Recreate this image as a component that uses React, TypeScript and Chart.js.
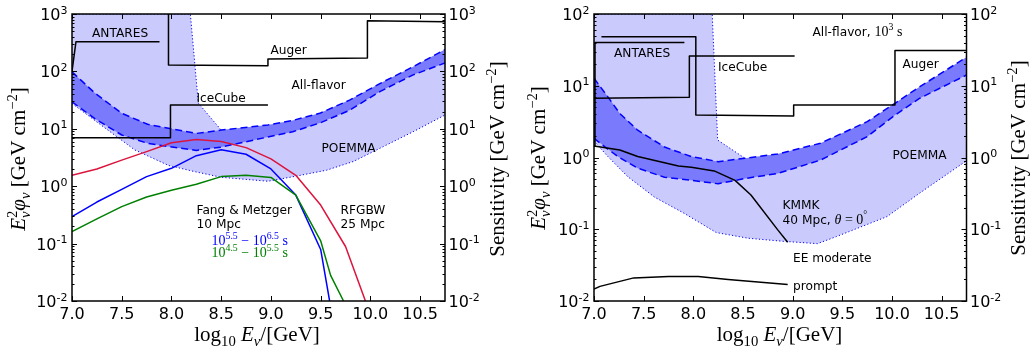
import React, { useEffect, useRef } from "react";
import { Chart, registerables } from "chart.js";

Chart.register(...registerables);

// ================= shared axes =================
const X_MIN = 7.0;
const X_MAX = 10.75;
const X_TICKS = [7.0, 7.5, 8.0, 8.5, 9.0, 9.5, 10.0, 10.5];
const LEFT_DECADES = [-2, -1, 0, 1, 2, 3];
const RIGHT_DECADES = [-2, -1, 0, 1, 2];

// ================= left panel data =================
const lUpperDashedX = [7.0, 7.23, 7.5, 7.76, 7.97, 8.25, 8.5, 8.97, 9.22, 9.49, 9.79, 10.1, 10.43, 10.75];
const lUpperDashedY = [98, 42, 18.6, 12, 10.2, 8.3, 9.5, 11.7, 14, 18.6, 31.6, 62, 121, 240];
const lLowerDashedX = [7.0, 7.23, 7.5, 7.76, 7.97, 8.25, 8.5, 8.97, 9.22, 9.49, 9.79, 10.1, 10.43, 10.75];
const lLowerDashedY = [29.5, 15, 7.8, 5.6, 4.9, 4.2, 4.8, 7.2, 8.9, 12.6, 21, 45, 87, 140];
const lLowerDottedX = [7.0, 7.29, 7.63, 7.97, 8.23, 8.5, 8.97, 9.22, 9.56, 9.83, 10.13, 10.43, 10.75];
const lLowerDottedY = [27.6, 11.7, 4.3, 2.3, 1.8, 1.43, 1.22, 1.46, 1.9, 2.7, 4.9, 8.9, 17.4];
const lUpperDottedX = [7.0, 8.19, 8.27, 8.5];
const lUpperDottedY = [1000, 1000, 28, 9.5];

const lAntaresX = [7.0, 7.04, 7.88];
const lAntaresY = [100, 330, 330];
const lAugerX = [7.97, 7.97, 8.97, 8.97, 9.97, 9.97, 10.75];
const lAugerY = [5000, 129, 126, 164, 172, 765, 735];
const lIceCubeX = [7.0, 7.99, 7.99, 8.97];
const lIceCubeY = [7.0, 7.0, 26, 26];

const rfgbwX = [7.0, 7.25, 7.5, 7.75, 8.0, 8.25, 8.5, 8.75, 9.0, 9.25, 9.5, 9.75, 9.95];
const rfgbwY = [1.55, 2.0, 2.85, 4.0, 5.7, 6.5, 6.0, 4.7, 3.0, 1.55, 0.47, 0.089, 0.01];
const fangBlueX = [7.0, 7.25, 7.5, 7.75, 8.0, 8.25, 8.5, 8.75, 9.0, 9.25, 9.5, 9.59];
const fangBlueY = [0.295, 0.53, 0.88, 1.47, 2.05, 3.4, 4.3, 3.6, 2.0, 0.7, 0.079, 0.01];
const fangGreenX = [7.0, 7.25, 7.5, 7.75, 8.0, 8.25, 8.5, 8.75, 9.0, 9.25, 9.5, 9.6, 9.73];
const fangGreenY = [0.162, 0.27, 0.44, 0.65, 0.85, 1.08, 1.47, 1.55, 1.42, 0.7, 0.112, 0.028, 0.01];

// ================= right panel data =================
const rUpperDashedX = [7.0, 7.14, 7.26, 7.44, 7.71, 7.98, 8.25, 8.52, 8.85, 9.28, 9.75, 10.03, 10.28, 10.75];
const rUpperDashedY = [12.7, 7.0, 4.1, 2.4, 1.4, 1.03, 0.875, 0.975, 1.12, 1.58, 3.16, 5.7, 9.7, 25];
const rLowerDashedX = [7.0, 7.11, 7.24, 7.44, 7.71, 7.98, 8.25, 8.52, 8.85, 9.28, 9.75, 10.03, 10.28, 10.75];
const rLowerDashedY = [1.85, 1.41, 1.03, 0.71, 0.53, 0.48, 0.43, 0.51, 0.6, 0.92, 1.95, 3.9, 6.7, 14.1];
const rLowerDottedX = [7.0, 7.14, 7.34, 7.61, 7.91, 8.23, 8.55, 8.9, 9.25, 9.44, 9.95, 10.28, 10.75];
const rLowerDottedY = [1.7, 1.03, 0.54, 0.28, 0.166, 0.09, 0.075, 0.068, 0.063, 0.079, 0.15, 0.32, 0.9];
const rUpperDottedX = [7.0, 8.19, 8.245, 8.52];
const rUpperDottedY = [100, 100, 1.75, 0.975];

const rAntaresX = [7.0, 7.01, 7.91];
const rAntaresY = [1.45, 40, 40];
const rAugerX = [7.075, 8.025, 8.025, 9.01, 9.01, 10.03, 10.03, 10.75];
const rAugerY = [48, 48, 3.9, 3.8, 5.4, 5.4, 31, 31];
const rIceCubeX = [7.0, 7.96, 7.96, 9.02];
const rIceCubeY = [6.7, 6.9, 26, 26];
const kmmkX = [7.0, 7.26, 7.44, 7.85, 7.98, 8.21, 8.42, 8.58, 8.85, 8.95];
const kmmkY = [1.45, 1.27, 1.03, 0.76, 0.73, 0.65, 0.48, 0.3, 0.098, 0.066];
const promptX = [7.0, 7.06, 7.4, 7.75, 8.05, 8.35, 8.95];
const promptY = [0.0147, 0.016, 0.021, 0.022, 0.022, 0.02, 0.017];

// ================= styles =================
const LIGHT = "rgb(202,202,252)";
const DARK = "rgb(122,122,252)";
const BLUE = "rgb(0,0,255)";
const RED = "rgb(220,20,60)";
const GREEN = "rgb(0,128,0)";
const TRANSPARENT = "rgba(0,0,0,0)";

const SANS_NOTE = '12.2px "DejaVu Sans"';
const rm = (s: number) => `${s}px "Liberation Serif"`;
const it = (s: number) => `italic ${s}px "Liberation Serif"`;
const TS = 21; // title size
const MS = 14; // math annotation size

type Seg = { t: string; f: string; dy?: number; c?: string; stack?: boolean };
type Note = { x: number; y: number; segs: Seg[]; color?: string };

const S = (t: string): Seg => ({ t, f: SANS_NOTE });

const yTitleSegs: Seg[] = [
  { t: "E", f: it(TS) },
  { t: "2", f: rm(TS * 0.7), dy: -8 },
  { t: "ν", f: it(TS * 0.7), dy: 4.5, stack: true },
  { t: "φ", f: it(TS) },
  { t: "ν", f: it(TS * 0.7), dy: 4.5 },
  { t: " [GeV cm", f: rm(TS) },
  { t: "−2", f: rm(TS * 0.7), dy: -8 },
  { t: "]", f: rm(TS) },
];
const sensTitleSegs: Seg[] = [
  { t: "Sensitivity [GeV cm", f: rm(TS) },
  { t: "−2", f: rm(TS * 0.7), dy: -8 },
  { t: "]", f: rm(TS) },
];
const xTitleSegs: Seg[] = [
  { t: "log", f: rm(TS) },
  { t: "10", f: rm(TS * 0.7), dy: 4.5 },
  { t: " E", f: it(TS) },
  { t: "ν", f: it(TS * 0.7), dy: 4.5 },
  { t: "/[GeV]", f: rm(TS) },
];

const powSegs = (a: string, b: string, col: string): Seg[] => [
  { t: "10", f: rm(MS), c: col },
  { t: a, f: rm(MS * 0.7), dy: -6, c: col },
  { t: " − 10", f: rm(MS), c: col },
  { t: b, f: rm(MS * 0.7), dy: -6, c: col },
  { t: " s", f: rm(MS), c: col },
];

const leftNotes: Note[] = [
  { x: 92, y: 36.5, segs: [S("ANTARES")] },
  { x: 270.5, y: 54, segs: [S("Auger")] },
  { x: 291.5, y: 89, segs: [S("All-flavor")] },
  { x: 196.5, y: 102, segs: [S("IceCube")] },
  { x: 321.5, y: 152, segs: [S("POEMMA")] },
  { x: 196.5, y: 213.5, segs: [S("Fang & Metzger")] },
  { x: 196.5, y: 228, segs: [S("10 Mpc")] },
  { x: 211.5, y: 245, segs: powSegs("5.5", "6.5", BLUE) },
  { x: 211.5, y: 257, segs: powSegs("4.5", "5.5", GREEN) },
  { x: 340.5, y: 213.5, segs: [S("RFGBW")] },
  { x: 340.5, y: 228, segs: [S("25 Mpc")] },
];

const rightNotes: Note[] = [
  {
    x: 812.5,
    y: 36,
    segs: [S("All-flavor, "), { t: "10", f: rm(MS) }, { t: "3", f: rm(MS * 0.7), dy: -6 }, { t: " s", f: rm(MS) }],
  },
  { x: 614, y: 57, segs: [S("ANTARES")] },
  { x: 718, y: 71, segs: [S("IceCube")] },
  { x: 902.5, y: 67.5, segs: [S("Auger")] },
  { x: 892.5, y: 158.5, segs: [S("POEMMA")] },
  { x: 782.5, y: 208.5, segs: [S("KMMK")] },
  {
    x: 782.5,
    y: 223.5,
    segs: [S("40 Mpc, "), { t: "θ", f: it(MS) }, { t: " = 0", f: rm(MS) }, { t: "°", f: rm(MS * 0.7), dy: -6 }],
  },
  { x: 793, y: 261.5, segs: [S("EE moderate")] },
  { x: 793, y: 290, segs: [S("prompt")] },
];

// ================= rich text helpers =================
function layoutRich(ctx: CanvasRenderingContext2D, segs: Seg[]) {
  let pos = 0;
  let prevStart = 0;
  let prevW = 0;
  const placed: { s: Seg; x: number }[] = [];
  for (const s of segs) {
    ctx.font = s.f;
    const w = ctx.measureText(s.t).width;
    if (s.stack) {
      placed.push({ s, x: prevStart });
      const adv = Math.max(prevW, w);
      pos = prevStart + adv;
      prevW = adv;
    } else {
      placed.push({ s, x: pos });
      prevStart = pos;
      prevW = w;
      pos += w;
    }
  }
  return { placed, width: pos };
}

function drawRich(
  ctx: CanvasRenderingContext2D,
  segs: Seg[],
  x: number,
  y: number,
  align: "left" | "center" | "right",
  color = "#000"
) {
  const { placed, width } = layoutRich(ctx, segs);
  const x0 = align === "left" ? x : align === "center" ? x - width / 2 : x - width;
  ctx.textAlign = "left";
  ctx.textBaseline = "alphabetic";
  for (const p of placed) {
    ctx.font = p.s.f;
    ctx.fillStyle = p.s.c || color;
    ctx.fillText(p.s.t, x0 + p.x, y + (p.s.dy || 0));
  }
}

function drawRotated(ctx: CanvasRenderingContext2D, segs: Seg[], x: number, y: number) {
  ctx.save();
  ctx.translate(x, y);
  ctx.rotate(-Math.PI / 2);
  drawRich(ctx, segs, 0, 0, "center");
  ctx.restore();
}

const decLabel = (d: number): Seg[] => [
  { t: "10", f: '16px "DejaVu Sans"' },
  { t: d < 0 ? "-" + Math.abs(d) : String(d), f: '11px "DejaVu Sans"', dy: -6.5 },
];

type DecorCfg = {
  ox: number;
  decades: number[];
  notes: Note[];
  leftTitleX: number;
  rightTitleX: number;
  leftTitleSegs: Seg[];
  titleY: number;
  xTitleX: number;
};

function makeDecor(cfg: DecorCfg) {
  return {
    id: "decor",
    afterDatasetsDraw(chart: any) {
      const ctx: CanvasRenderingContext2D = chart.ctx;
      const a = chart.chartArea;
      const xs = chart.scales.x;
      const ys = chart.scales.y;
      ctx.save();
      for (const n of cfg.notes) drawRich(ctx, n.segs, n.x - cfg.ox, n.y, "left", n.color);

      // frame
      ctx.strokeStyle = "#000";
      ctx.lineWidth = 1.5;
      ctx.strokeRect(a.left, a.top, a.right - a.left, a.bottom - a.top);

      // ticks
      ctx.lineWidth = 1;
      ctx.beginPath();
      for (const t of X_TICKS) {
        const px = Math.round(xs.getPixelForValue(t)) + 0.5;
        ctx.moveTo(px, a.bottom);
        ctx.lineTo(px, a.bottom - 5);
        ctx.moveTo(px, a.top);
        ctx.lineTo(px, a.top + 5);
      }
      for (const d of cfg.decades) {
        for (let m = 1; m < 10; m++) {
          const v = m * Math.pow(10, d);
          if (v > ys.max * 1.0001) break;
          const py = Math.round(ys.getPixelForValue(v)) + 0.5;
          const len = m === 1 ? 5 : 2.5;
          ctx.moveTo(a.left, py);
          ctx.lineTo(a.left + len, py);
          ctx.moveTo(a.right, py);
          ctx.lineTo(a.right - len, py);
        }
      }
      ctx.stroke();

      // tick labels
      for (const t of X_TICKS) {
        drawRich(ctx, [{ t: t.toFixed(1), f: '16px "DejaVu Sans"' }], xs.getPixelForValue(t), a.bottom + 18, "center");
      }
      for (const d of cfg.decades) {
        const py = ys.getPixelForValue(Math.pow(10, d));
        drawRich(ctx, decLabel(d), a.left - 4.5, py + 6, "right");
        drawRich(ctx, decLabel(d), a.right + 3.5, py + 6, "left");
      }

      // titles
      drawRotated(ctx, cfg.leftTitleSegs, cfg.leftTitleX - cfg.ox, cfg.titleY);
      drawRotated(ctx, sensTitleSegs, cfg.rightTitleX - cfg.ox, cfg.titleY);
      drawRich(ctx, xTitleSegs, cfg.xTitleX - cfg.ox, 341, "center");
      ctx.restore();
    },
  };
}

// ================= dataset helpers =================
const pts = (xs: number[], ys: number[]) => xs.map((x, i) => ({ x, y: ys[i] }));

const lineDs = (data: any[], color: string, width: number, dash: number[], order: number) => ({
  data,
  borderColor: color,
  backgroundColor: TRANSPARENT,
  borderWidth: width,
  borderDash: dash,
  fill: false,
  order,
  pointRadius: 0,
});

const fillBase = (data: any[], order: number) => ({
  data,
  borderColor: TRANSPARENT,
  backgroundColor: TRANSPARENT,
  borderWidth: 0,
  fill: false,
  order,
  pointRadius: 0,
});

const DASH = [7, 4];
const DOT = [1.2, 2.2];

function envelope(dotX: number[], dotY: number[], dashX: number[], dashY: number[]) {
  const last = dotX[dotX.length - 1];
  const xs = [...dotX];
  const ys = [...dotY];
  dashX.forEach((x, i) => {
    if (x > last) {
      xs.push(x);
      ys.push(dashY[i]);
    }
  });
  return pts(xs, ys);
}

function buildConfig(p: {
  yMin: number;
  yMax: number;
  pad: { left: number; right: number; top: number; bottom: number };
  upDash: any[];
  loDash: any[];
  loDot: any[];
  upDot: any[];
  env: any[];
  black: any[][];
  colored: { data: any[]; color: string }[];
  decor: any;
}) {
  const datasets: any[] = [
    fillBase(p.loDot, 40),
    { ...fillBase(p.env, 39), backgroundColor: LIGHT, fill: 0 },
    fillBase(p.loDash, 38),
    { ...fillBase(p.upDash, 37), backgroundColor: DARK, fill: 2 },
    lineDs(p.loDot, BLUE, 1, DOT, 30),
    lineDs(p.upDot, BLUE, 1, DOT, 30),
    lineDs(p.loDash, BLUE, 1.5, DASH, 25),
    lineDs(p.upDash, BLUE, 1.5, DASH, 25),
    ...p.black.map((d) => lineDs(d, "#000", 1.5, [], 10)),
    ...p.colored.map((c) => lineDs(c.data, c.color, 1.5, [], 5)),
  ];
  return {
    type: "line",
    data: { datasets },
    options: {
      animation: false,
      responsive: false,
      events: [],
      layout: { padding: p.pad },
      elements: {
        point: { radius: 0, hoverRadius: 0 },
        line: { tension: 0, borderJoinStyle: "round", borderCapStyle: "butt" },
      },
      scales: {
        x: { type: "linear", min: X_MIN, max: X_MAX, display: false },
        y: { type: "logarithmic", min: p.yMin, max: p.yMax, display: false },
      },
      plugins: { legend: { display: false }, tooltip: { enabled: false } },
    },
    plugins: [p.decor],
  } as any;
}

function leftConfig() {
  return buildConfig({
    yMin: 0.01,
    yMax: 1000,
    pad: { left: 72, right: 71, top: 14, bottom: 53 },
    upDash: pts(lUpperDashedX, lUpperDashedY),
    loDash: pts(lLowerDashedX, lLowerDashedY),
    loDot: pts(lLowerDottedX, lLowerDottedY),
    upDot: pts(lUpperDottedX, lUpperDottedY),
    env: envelope(lUpperDottedX, lUpperDottedY, lUpperDashedX, lUpperDashedY),
    black: [pts(lAntaresX, lAntaresY), pts(lAugerX, lAugerY), pts(lIceCubeX, lIceCubeY)],
    colored: [
      { data: pts(rfgbwX, rfgbwY), color: RED },
      { data: pts(fangGreenX, fangGreenY), color: GREEN },
      { data: pts(fangBlueX, fangBlueY), color: BLUE },
    ],
    decor: makeDecor({
      ox: 0,
      decades: LEFT_DECADES,
      notes: leftNotes,
      leftTitleX: 25,
      rightTitleX: 504,
      leftTitleSegs: yTitleSegs,
      titleY: 159,
      xTitleX: 257,
    }),
  });
}

function rightConfig() {
  return buildConfig({
    yMin: 0.01,
    yMax: 100,
    pad: { left: 78, right: 65.5, top: 14, bottom: 53 },
    upDash: pts(rUpperDashedX, rUpperDashedY),
    loDash: pts(rLowerDashedX, rLowerDashedY),
    loDot: pts(rLowerDottedX, rLowerDottedY),
    upDot: pts(rUpperDottedX, rUpperDottedY),
    env: envelope(rUpperDottedX, rUpperDottedY, rUpperDashedX, rUpperDashedY),
    black: [
      pts(rAntaresX, rAntaresY),
      pts(rAugerX, rAugerY),
      pts(rIceCubeX, rIceCubeY),
      pts(kmmkX, kmmkY),
      pts(promptX, promptY),
    ],
    colored: [],
    decor: makeDecor({
      ox: 516,
      decades: RIGHT_DECADES,
      notes: rightNotes,
      leftTitleX: 545,
      rightTitleX: 1025,
      leftTitleSegs: yTitleSegs,
      titleY: 158,
      xTitleX: 779.5,
    }),
  });
}

function Panel({ make, left }: { make: () => any; left: number }) {
  const ref = useRef<HTMLCanvasElement>(null);
  useEffect(() => {
    if (!ref.current) return;
    const chart = new Chart(ref.current, make());
    return () => chart.destroy();
  }, [make]);
  return (
    <canvas
      ref={ref}
      width={516}
      height={354}
      style={{ position: "absolute", left, top: 0, width: 516, height: 354 }}
    />
  );
}

export default function App() {
  return (
    <div style={{ position: "fixed", left: 0, top: 0, width: 1032, height: 354, background: "#fff" }}>
      <Panel make={leftConfig} left={0} />
      <Panel make={rightConfig} left={516} />
    </div>
  );
}
